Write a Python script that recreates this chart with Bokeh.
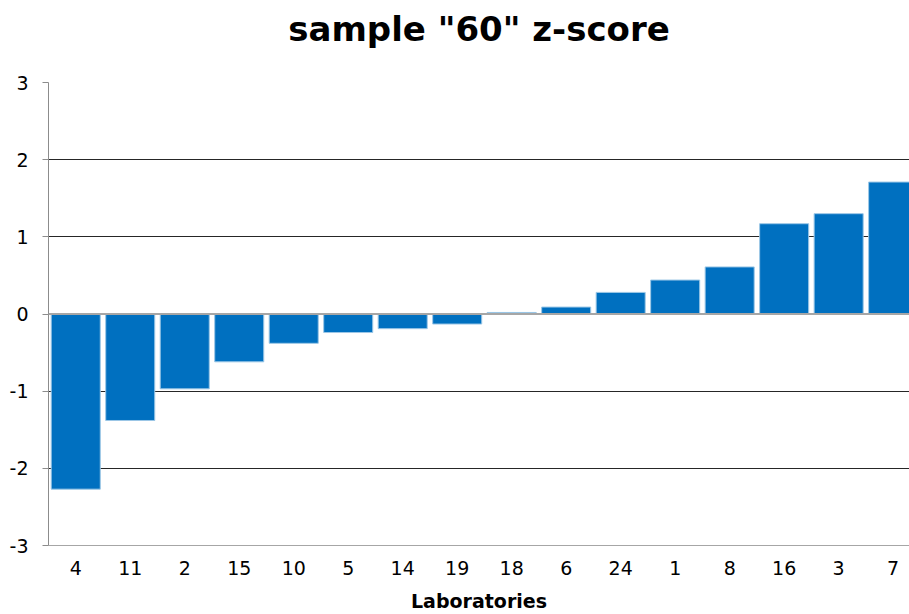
from bokeh.plotting import figure
from bokeh.models import Range1d, FixedTicker, Span, Title
from bokeh.embed import file_html
from bokeh.resources import INLINE

TITLE = 'sample "60" z-score'
labs = ["4", "11", "2", "15", "10", "5", "14", "19", "18", "6", "24", "1", "8", "16", "3", "7"]
zscores = [-2.27, -1.38, -0.97, -0.62, -0.38, -0.24, -0.19, -0.13, 0.02, 0.09, 0.28, 0.44, 0.61, 1.17, 1.30, 1.71]
yticks = [-3, -2, -1, 0, 1, 2, 3]

xs = list(range(len(labs)))
FONT = "DejaVu Sans"

p = figure(width=909, height=614, output_backend="svg", toolbar_location=None,
           x_range=Range1d(-0.5, 15.3), y_range=Range1d(-3, 3),
           min_border_left=48, min_border_right=0, min_border_bottom=68, min_border_top=82)

# spacer between title and frame, then the title itself
p.add_layout(Title(text=" ", text_font_size="12px", standoff=18), "above")
p.add_layout(Title(text=TITLE, align="center", text_font=FONT, text_font_size="34px",
                   text_font_style="bold", text_color="#000000", standoff=0), "above")

p.outline_line_color = None
p.xgrid.grid_line_color = None
p.ygrid.ticker = FixedTicker(ticks=yticks)
p.ygrid.grid_line_color = "#262626"
p.ygrid.grid_line_width = 1

p.vbar(x=xs, top=zscores, bottom=0, width=0.9, fill_color="#0070C0",
       line_color="#9cc7e6", line_width=1)

p.add_layout(Span(location=0, dimension="width", line_color="#a6a6a6", line_width=2))

p.yaxis.ticker = FixedTicker(ticks=yticks)
p.yaxis.major_label_overrides = {t: str(t) for t in yticks}
p.yaxis.axis_line_color = "#8c8c8c"
p.yaxis.major_tick_line_color = "#8c8c8c"
p.yaxis.major_tick_out = 6
p.yaxis.major_tick_in = 0
p.yaxis.minor_tick_line_color = None
p.yaxis.major_label_text_font = FONT
p.yaxis.major_label_text_font_size = "19px"
p.yaxis.major_label_text_color = "#000000"
p.yaxis.major_label_standoff = 14

p.xaxis.ticker = FixedTicker(ticks=xs)
p.xaxis.major_label_overrides = {i: l for i, l in enumerate(labs)}
p.xaxis.axis_line_color = "#a6a6a6"
p.xaxis.axis_line_width = 1
p.xaxis.major_tick_line_color = None
p.xaxis.minor_tick_line_color = None
p.xaxis.major_label_text_font = FONT
p.xaxis.major_label_text_font_size = "19px"
p.xaxis.major_label_text_color = "#000000"
p.xaxis.major_label_standoff = 9
p.xaxis.axis_label = "Laboratories"
p.xaxis.axis_label_text_font = FONT
p.xaxis.axis_label_text_font_size = "19px"
p.xaxis.axis_label_text_font_style = "bold"
p.xaxis.axis_label_text_color = "#000000"
p.xaxis.axis_label_standoff = 12

open("out.html", "w").write(file_html(p, INLINE))
